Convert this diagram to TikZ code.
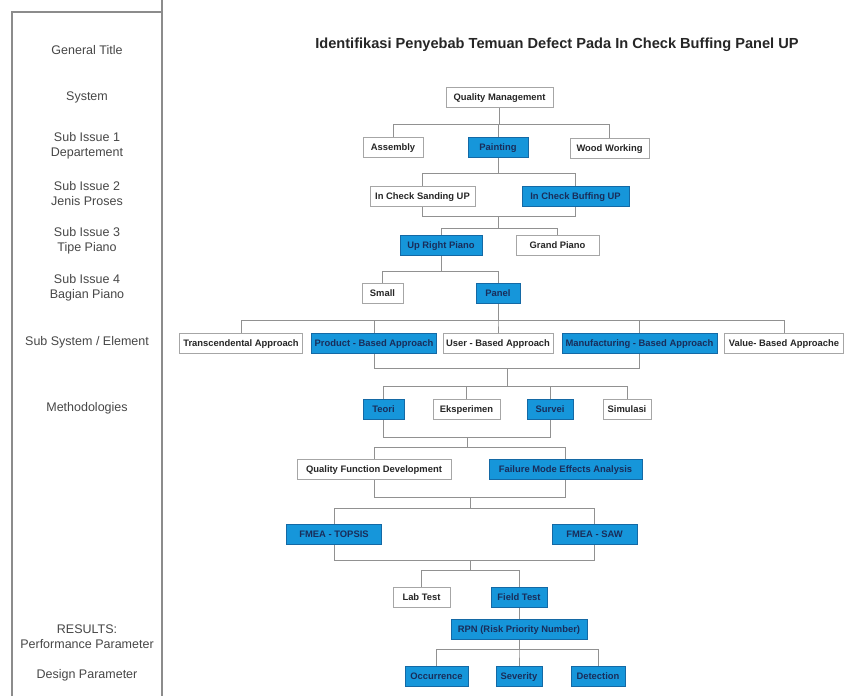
\documentclass[tikz,border=0pt]{standalone}
\usepackage{fontspec}
\setmainfont{Liberation Sans}
\usetikzlibrary{backgrounds}
\definecolor{bx}{RGB}{22,150,218}
\definecolor{bxd}{RGB}{20,105,165}
\definecolor{bxt}{RGB}{25,45,90}
\definecolor{ln}{RGB}{145,145,145}
\definecolor{lbl}{RGB}{70,70,70}
\definecolor{frm}{RGB}{140,140,140}
\tikzset{
  wbox/.style={draw=gray!70, line width=0.8pt, fill=white, minimum height=20pt,
    inner sep=0pt, text height=6.8pt, text depth=0pt,
    font=\fontsize{9.4}{10}\selectfont\bfseries, text=black!85},
  bbox/.style={wbox, draw=bxd, fill=bx, text=bxt},
  conn/.style={draw=ln, line width=0.9pt},
  side/.style={font=\fontsize{12.5}{15}\selectfont, text=lbl, align=center},
  frame/.style={draw=frm, line width=1.3pt},
}
\begin{document}
\begin{tikzpicture}[x=1pt,y=-1pt]
\useasboundingbox (0,0) rectangle (848,696);
% frame of left column
\draw[frame] (12,696) -- (12,12) -- (162,12);
\draw[frame] (162,0) -- (162,696);
% side labels
\node[side] (lt) at (87,50) {General Title};
\node[side] (ls) at (87,97) {System};
\node[side] (l1) at (87,146) {Sub Issue 1\\Departement};
\node[side] (l2) at (87,194) {Sub Issue 2\\Jenis Proses};
\node[side] (l3) at (87,241) {Sub Issue 3\\Tipe Piano};
\node[side] (l4) at (87,288) {Sub Issue 4\\Bagian Piano};
\node[side] (l5) at (87,342) {Sub System / Element};
\node[side] (l6) at (87,408) {Methodologies};
\node[side] (l7) at (87,637) {RESULTS:\\Performance Parameter};
\node[side] (l8) at (87,675) {Design Parameter};
% title
\node[font=\fontsize{14.6}{17}\selectfont\bfseries, text=black!85] (title) at (557,45)
  {Identifikasi Penyebab Temuan Defect Pada In Check Buffing Panel UP};
% boxes
\node[wbox, minimum width=107pt] (qm) at (499.5,97) {Quality Management};
\node[wbox, minimum width=60pt] (asm) at (393,147.5) {Assembly};
\node[bbox, minimum width=60pt] (pnt) at (498,147) {Painting};
\node[wbox, minimum width=79pt] (wood) at (609.5,148) {Wood Working};
\node[wbox, minimum width=105pt] (san) at (422.5,196) {In Check Sanding UP};
\node[bbox, minimum width=107pt] (buf) at (575.5,196) {In Check Buffing UP};
\node[bbox, minimum width=82pt] (upr) at (441,245) {Up Right Piano};
\node[wbox, minimum width=83pt] (grand) at (557.5,245.5) {Grand Piano};
\node[wbox, minimum width=41pt] (small) at (382.5,293) {Small};
\node[bbox, minimum width=44pt] (panel) at (498,293.5) {Panel};
\node[wbox, minimum width=123pt] (tra) at (241,343) {Transcendental Approach};
\node[bbox, minimum width=125pt] (pro) at (374,343) {Product - Based Approach};
\node[wbox, minimum width=110pt] (use) at (498,343) {User - Based Approach};
\node[bbox, minimum width=155pt] (man) at (639.5,343) {Manufacturing - Based Approach};
\node[wbox, minimum width=119pt] (val) at (784,343) {Value- Based Approache};
\node[bbox, minimum width=41pt] (teo) at (383.5,409) {Teori};
\node[wbox, minimum width=67pt] (eks) at (466.5,409) {Eksperimen};
\node[bbox, minimum width=46pt] (sur) at (550,409) {Survei};
\node[wbox, minimum width=48pt] (sim) at (627,409) {Simulasi};
\node[wbox, minimum width=154pt] (qfd) at (374,469.5) {Quality Function Development};
\node[bbox, minimum width=153pt] (fmea) at (565.5,469.5) {Failure Mode Effects Analysis};
\node[bbox, minimum width=95pt] (top) at (334,534.5) {FMEA - TOPSIS};
\node[bbox, minimum width=85pt] (saw) at (594.5,534.5) {FMEA - SAW};
\node[wbox, minimum width=57pt] (lab) at (421.5,597.5) {Lab Test};
\node[bbox, minimum width=56pt] (field) at (519,597) {Field Test};
\node[bbox, minimum width=136pt] (rpn) at (519,629.5) {RPN (Risk Priority Number)};
\node[bbox, minimum width=63pt] (occ) at (436.5,676) {Occurrence};
\node[bbox, minimum width=46pt] (sev) at (519,676) {Severity};
\node[bbox, minimum width=54pt] (det) at (598,676) {Detection};
% merge points
\coordinate (m2) at (498,216);
\coordinate (m4) at (507,368);
\coordinate (m5) at (467,437);
\coordinate (m6) at (470,497);
\coordinate (m7) at (470,560);
% connectors
\begin{scope}[on background layer]
\foreach \c in {asm,pnt,wood} \draw[conn] (qm.south) -- ++(0,17) -| (\c.north);
\foreach \c in {san,buf} \draw[conn] (pnt.south) -- ++(0,16) -| (\c.north);
\draw[conn] (san.south) |- (m2);
\draw[conn] (buf.south) |- (m2);
\foreach \c in {upr,grand} \draw[conn] (m2) -- ++(0,12) -| (\c.north);
\foreach \c in {small,panel} \draw[conn] (upr.south) -- ++(0,16) -| (\c.north);
\foreach \c in {tra,pro,use,man,val} \draw[conn] (panel.south) -- ++(0,16.5) -| (\c.north);
\draw[conn] (pro.south) |- (m4);
\draw[conn] (man.south) |- (m4);
\foreach \c in {teo,eks,sur,sim} \draw[conn] (m4) -- ++(0,18) -| (\c.north);
\draw[conn] (teo.south) |- (m5);
\draw[conn] (sur.south) |- (m5);
\foreach \c in {qfd,fmea} \draw[conn] (m5) -- ++(0,10) -| (\c.north);
\draw[conn] (qfd.south) |- (m6);
\draw[conn] (fmea.south) |- (m6);
\foreach \c in {top,saw} \draw[conn] (m6) -- ++(0,11) -| (\c.north);
\draw[conn] (top.south) |- (m7);
\draw[conn] (saw.south) |- (m7);
\foreach \c in {lab,field} \draw[conn] (m7) -- ++(0,10) -| (\c.north);
\draw[conn] (field.south) -- (rpn.north);
\foreach \c in {occ,sev,det} \draw[conn] (rpn.south) -- ++(0,10) -| (\c.north);
\end{scope}
\end{tikzpicture}
\end{document}
